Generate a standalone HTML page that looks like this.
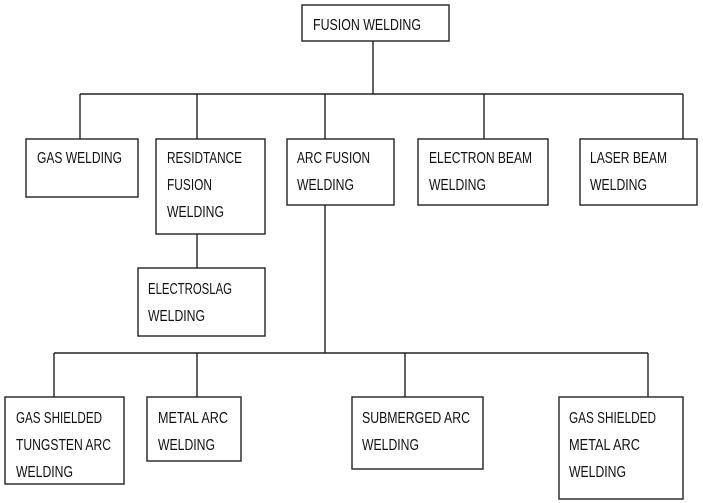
<!DOCTYPE html>
<html><head><meta charset="utf-8"><style>
html,body{margin:0;padding:0;background:#fff;}
svg{display:block;}
text{font-family:"Liberation Sans",sans-serif;font-size:16px;fill:#111;}
</style></head><body>
<svg width="703" height="503" viewBox="0 0 703 503" xmlns="http://www.w3.org/2000/svg">
<g fill="none" stroke="#222" stroke-width="1.4">
<rect x="302" y="5" width="147" height="36"/>
<line x1="373" y1="41" x2="373" y2="94"/>
<line x1="80" y1="94" x2="683" y2="94"/>
<line x1="80" y1="94" x2="80" y2="139"/>
<line x1="197" y1="94" x2="197" y2="139"/>
<line x1="325" y1="94" x2="325" y2="139"/>
<line x1="484" y1="94" x2="484" y2="139"/>
<line x1="683" y1="94" x2="683" y2="139"/>
<rect x="26" y="139" width="112" height="58"/>
<rect x="156" y="139" width="109" height="95"/>
<rect x="287" y="139" width="107" height="66"/>
<rect x="418" y="139" width="130" height="66"/>
<rect x="580" y="139" width="117" height="66"/>
<line x1="197" y1="234" x2="197" y2="268"/>
<rect x="138" y="268" width="127" height="68"/>
<line x1="325" y1="205" x2="325" y2="353"/>
<line x1="54" y1="353" x2="648" y2="353"/>
<line x1="54" y1="353" x2="54" y2="397"/>
<line x1="197" y1="353" x2="197" y2="397"/>
<line x1="405" y1="353" x2="405" y2="397"/>
<line x1="648" y1="353" x2="648" y2="397"/>
<rect x="5" y="397" width="119" height="87"/>
<rect x="147" y="397" width="94" height="64"/>
<rect x="352" y="397" width="131" height="72"/>
<rect x="559" y="397" width="124" height="102"/>
</g>
<g>
<text x="313" y="30" textLength="108" lengthAdjust="spacingAndGlyphs">FUSION WELDING</text>
<text x="37" y="163" textLength="85" lengthAdjust="spacingAndGlyphs">GAS WELDING</text>
<text x="167" y="163" textLength="75" lengthAdjust="spacingAndGlyphs">RESIDTANCE</text>
<text x="167" y="190" textLength="45" lengthAdjust="spacingAndGlyphs">FUSION</text>
<text x="167" y="217" textLength="57" lengthAdjust="spacingAndGlyphs">WELDING</text>
<text x="297" y="163" textLength="73" lengthAdjust="spacingAndGlyphs">ARC FUSION</text>
<text x="297" y="190" textLength="57" lengthAdjust="spacingAndGlyphs">WELDING</text>
<text x="429" y="163" textLength="103" lengthAdjust="spacingAndGlyphs">ELECTRON BEAM</text>
<text x="429" y="190" textLength="57" lengthAdjust="spacingAndGlyphs">WELDING</text>
<text x="590" y="163" textLength="77" lengthAdjust="spacingAndGlyphs">LASER BEAM</text>
<text x="590" y="190" textLength="57" lengthAdjust="spacingAndGlyphs">WELDING</text>
<text x="148" y="294" textLength="84" lengthAdjust="spacingAndGlyphs">ELECTROSLAG</text>
<text x="148" y="321" textLength="57" lengthAdjust="spacingAndGlyphs">WELDING</text>
<text x="16" y="423" textLength="86" lengthAdjust="spacingAndGlyphs">GAS SHIELDED</text>
<text x="16" y="450" textLength="95" lengthAdjust="spacingAndGlyphs">TUNGSTEN ARC</text>
<text x="16" y="477" textLength="57" lengthAdjust="spacingAndGlyphs">WELDING</text>
<text x="158" y="423" textLength="70" lengthAdjust="spacingAndGlyphs">METAL ARC</text>
<text x="158" y="450" textLength="57" lengthAdjust="spacingAndGlyphs">WELDING</text>
<text x="362" y="423" textLength="108" lengthAdjust="spacingAndGlyphs">SUBMERGED ARC</text>
<text x="362" y="450" textLength="57" lengthAdjust="spacingAndGlyphs">WELDING</text>
<text x="569" y="423" textLength="87" lengthAdjust="spacingAndGlyphs">GAS SHIELDED</text>
<text x="569" y="450" textLength="71" lengthAdjust="spacingAndGlyphs">METAL ARC</text>
<text x="569" y="477" textLength="57" lengthAdjust="spacingAndGlyphs">WELDING</text>
</g>
</svg>
</body></html>
